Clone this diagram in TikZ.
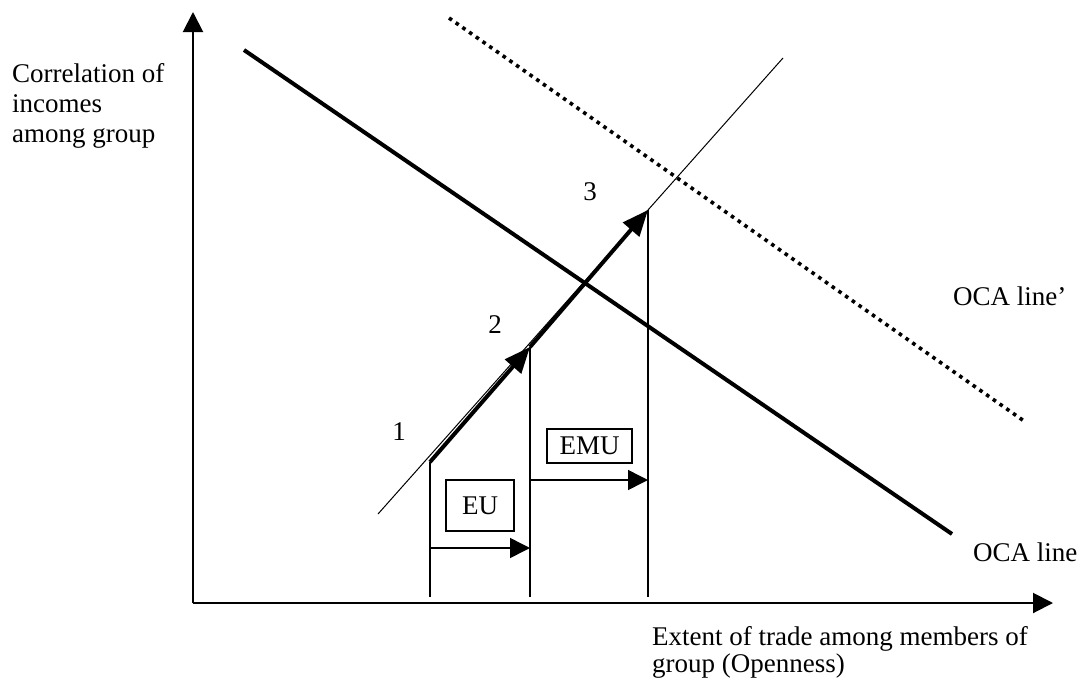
\documentclass[tikz,border=0pt]{standalone}
\usepackage{fontspec}
\setmainfont{Liberation Serif}
\usetikzlibrary{arrows.meta}
\begin{document}
\begin{tikzpicture}[x=1pt,y=-1pt,
  txt/.style={inner sep=0pt,anchor=base west,font=\fontsize{27}{28}\selectfont},
  lbl/.style={inner sep=0pt,font=\fontsize{27}{28}\selectfont},
  axis/.style={line width=2pt,-{Triangle[length=20pt,width=20pt]}},
  ocaline/.style={line width=4pt},
  dotline/.style={line width=3.6pt,dash pattern=on 3.6pt off 4.6pt},
  thinline/.style={line width=1pt},
  bigarrow/.style={line width=4pt,-{Triangle[length=26pt,width=21pt]}},
  vline/.style={line width=1.8pt},
  harrow/.style={line width=1.5pt,-{Triangle[length=20pt,width=20pt]}},
  boxed/.style={draw,line width=1.5pt,inner sep=0pt,font=\fontsize{27}{28}\selectfont}
]
\useasboundingbox (0,0) rectangle (1077,683);
% axes
\coordinate (O) at (193,603);
\coordinate (Ytop) at (193,12);
\coordinate (Xend) at (1053,603);
\draw[axis] (O) -- (Ytop);
\draw[axis] (O) -- (Xend);
% OCA lines
\coordinate (ocaA) at (244,50);
\coordinate (ocaB) at (952,534);
\draw[ocaline] (ocaA) -- (ocaB);
\coordinate (dotA) at (449,18);
\coordinate (dotB) at (1024,421);
\draw[dotline] (dotA) -- (dotB);
% thin line
\coordinate (thA) at (378,514);
\coordinate (thB) at (783,58);
\draw[thinline] (thA) -- (thB);
% path points
\coordinate (P1) at (430,462);
\coordinate (P2) at (530,347);
\coordinate (P3) at (648,210);
\coordinate (B1) at (430,597);
\coordinate (B2) at (530,597);
\coordinate (B3) at (648,597);
\draw[vline] (P1) -- (B1);
\draw[vline] (P2) -- (B2);
\draw[vline] (P3) -- (B3);
\draw[bigarrow] (P1) -- (P2);
\draw[bigarrow] (P2) -- (P3);
% horizontal arrows
\coordinate (euA) at (430,548);
\coordinate (euB) at (530,548);
\coordinate (emuA) at (531,480);
\coordinate (emuB) at (648,480);
\draw[harrow] (euA) -- (euB);
\draw[harrow] (emuA) -- (emuB);
% boxes
\node[boxed,minimum width=68pt,minimum height=51pt] (eu) at (480,505.5) {EU};
\node[boxed,minimum width=85pt,minimum height=34pt] (emu) at (589.5,446) {EMU};
% numbers
\node[lbl] (n1) at (399,432) {1};
\node[lbl] (n2) at (495,325) {2};
\node[lbl] (n3) at (590,192) {3};
% labels
\node[txt] (yl1) at (12,82) {Correlation of};
\node[txt] (yl2) at (12,112) {incomes};
\node[txt] (yl3) at (12,142) {among group};
\node[txt] (xl1) at (652,645) {Extent of trade among members of};
\node[txt] (xl2) at (652,672) {group (Openness)};
\node[txt] (oca) at (973,561) {OCA line};
\node[txt] (ocap) at (953,305) {OCA line’};
\end{tikzpicture}
\end{document}
